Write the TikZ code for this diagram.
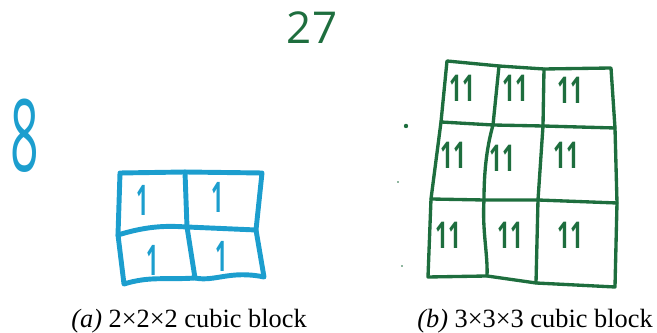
\documentclass[tikz,border=0pt]{standalone}
\usepackage{fontspec}
\setmainfont{Liberation Serif}
\newfontfamily\handfont{Open Sans}
\begin{document}
\begin{tikzpicture}[x=0.02cm,y=-0.02cm]
\definecolor{cblue}{RGB}{28,158,206}
\definecolor{cgreen}{RGB}{30,110,62}
\tikzset{
  bluegrid/.style={draw=cblue,line width=2.8pt,line cap=round,line join=round},
  greengrid/.style={draw=cgreen,line width=1.9pt,line cap=round,line join=round},
  bluemark/.style={text=cblue,font=\handfont\bfseries\fontsize{24}{24}\selectfont,inner sep=0pt,xscale=0.5},
  greenmark/.style={text=cgreen,font=\handfont\bfseries\fontsize{21}{21}\selectfont,inner sep=0pt,xscale=0.6},
  caption/.style={font=\fontsize{15}{17}\selectfont,inner sep=0pt},
  speck/.style={fill=cgreen,draw=none}
}
\useasboundingbox (0,0) rectangle (657,333);
% ---- blue 2x2 grid ----
\coordinate (b11) at (120,173); \coordinate (b12) at (185,172); \coordinate (b13) at (262,173);
\coordinate (b21) at (118,235); \coordinate (b22) at (187,227); \coordinate (b23) at (256,230);
\coordinate (b31) at (124,284); \coordinate (b32) at (195,278); \coordinate (b33) at (264,277);
\path[bluegrid] (b11) -- (b12) -- (b13) -- (b23) -- (b33) .. controls (230,270) and (215,282) .. (b32) .. controls (165,280) and (150,276) .. (b31) -- (b21) -- (b11);
\path[bluegrid] (b12) -- (b22) -- (b32);
\path[bluegrid] (b21) .. controls (150,225) and (170,226) .. (b22) -- (b23);
\node[bluemark] (m1) at (143,200) {1};
\node[bluemark] (m2) at (218,197) {1};
\node[bluemark] (m3) at (153,260) {1};
\node[bluemark] (m4) at (222,256) {1};
\node[text=cblue,font=\handfont\fontsize{57}{57}\selectfont,xscale=0.5,inner sep=0pt] (eight) at (25,136) {8};
% ---- green 3x3 grid ----
\coordinate (g11) at (447,61); \coordinate (g12) at (499,66); \coordinate (g13) at (544,69); \coordinate (g14) at (611,68);
\coordinate (g21) at (441,122); \coordinate (g22) at (493,125); \coordinate (g23) at (543,126); \coordinate (g24) at (615,128);
\coordinate (g31) at (431,199); \coordinate (g32) at (484,200); \coordinate (g33) at (538,200); \coordinate (g34) at (617,203);
\coordinate (g41) at (428,277); \coordinate (g42) at (487,276); \coordinate (g43) at (536,283); \coordinate (g44) at (615,287);
\path[greengrid] (g11) -- (g12) -- (g13) -- (g14) -- (g24) -- (g34) -- (g44) -- (g43) -- (g42) -- (g41) -- (g31) -- (g21) -- (g11);
\path[greengrid] (g21) -- (g22) -- (g23) -- (g24);
\path[greengrid] (g31) -- (g32) -- (g33) -- (g34);
\path[greengrid] (g12) -- (g22) .. controls (486,150) and (484,175) .. (g32) .. controls (482,230) and (488,255) .. (g42);
\path[greengrid] (g13) -- (g23) -- (g33) -- (g43);
\foreach \n/\x/\y in {a/462/88,b/515/88,c/570/90,d/453/155,e/502/158,f/566/155,g/448/235,h/510/235,i/570/235}
  \node[greenmark] (mk\n) at (\x,\y) {11};
\fill[speck] (406,126) circle (2.2);
\fill[speck] (398,182) circle (0.9);
\fill[speck] (402,266) circle (0.9);
\node[text=cgreen,font=\handfont\fontsize{25}{25}\selectfont,inner sep=0pt] (tseven) at (312,28) {27};
% ---- captions ----
\node[caption] (capa) at (189,321) {\textit{(a)} 2×2×2 cubic block};
\node[caption] (capb) at (535,321) {\textit{(b)} 3×3×3 cubic block};
\end{tikzpicture}
\end{document}
